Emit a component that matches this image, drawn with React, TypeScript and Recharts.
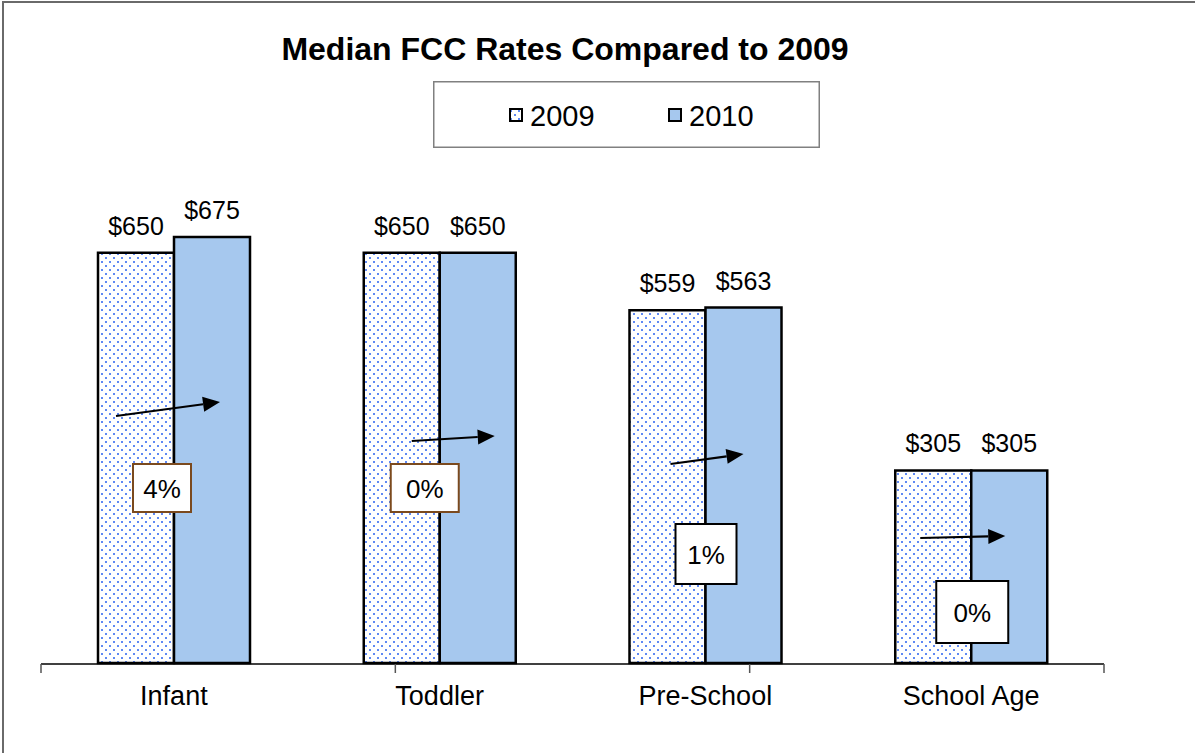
import { BarChart, Bar, XAxis, YAxis, Legend, LabelList } from "recharts";

const categories = ["Infant", "Toddler", "Pre-School", "School Age"];
const rates2009 = [650, 650, 559, 305];
const rates2010 = [675, 650, 563, 305];
const seriesNames = ["2009", "2010"];

const chartData = categories.map((name, i) => ({
  name,
  y2009: rates2009[i],
  y2010: rates2010[i],
}));

// arrows and % boxes were placed by hand in the original, offsets are from
// the category centre (x) and the baseline (y)
const notes = [
  { ax1: -58, ay1: -247, ax2: 46, ay2: -261, bx: -41, by: -199, bw: 58, bh: 48, border: "#7B4A1E" },
  { ax1: -28, ay1: -222, ax2: 55, ay2: -227, bx: -49, by: -199, bw: 68, bh: 48, border: "#7B4A1E" },
  { ax1: -35, ay1: -199, ax2: 38, ay2: -209, bx: -30, by: -139, bw: 61, bh: 60, border: "#000" },
  { ax1: -51, ay1: -125, ax2: 34, ay2: -127, bx: -35, by: -82, bw: 72, bh: 62, border: "#000" },
];

const FONT = "'Liberation Sans', Arial, sans-serif";
const BLUE = "#A6C8EE";

const pctChange = (i: number) =>
  Math.round(((rates2010[i] - rates2009[i]) / rates2009[i]) * 100) + "%";

const ValueLabel = (props: any) => {
  const { x, y, width } = props.viewBox ?? props;
  return (
    <text x={x + width / 2} y={y - 18} textAnchor="middle" fontSize={25} fontFamily={FONT} fill="#000">
      ${props.value}
    </text>
  );
};

const ChangeNote = (props: any) => {
  const { x, y, height } = props.viewBox ?? props;
  const n = notes[props.index];
  if (!n) return null;
  const base = y + height;
  const x1 = x + n.ax1, y1 = base + n.ay1, x2 = x + n.ax2, y2 = base + n.ay2;
  const ang = Math.atan2(y2 - y1, x2 - x1);
  const len = 17, half = 7.5;
  const bx = x2 - len * Math.cos(ang), by = y2 - len * Math.sin(ang);
  const head = [
    [x2, y2],
    [bx - half * Math.sin(ang), by + half * Math.cos(ang)],
    [bx + half * Math.sin(ang), by - half * Math.cos(ang)],
  ]
    .map((p) => p.join(","))
    .join(" ");
  return (
    <g>
      <line x1={x1} y1={y1} x2={bx} y2={by} stroke="#000" strokeWidth={2.2} />
      <polygon points={head} fill="#000" />
      <rect x={x + n.bx} y={base + n.by} width={n.bw} height={n.bh} fill="#fff" stroke={n.border} strokeWidth={2} />
      <text
        x={x + n.bx + n.bw / 2}
        y={base + n.by + n.bh / 2 + 10}
        textAnchor="middle"
        fontSize={26}
        fontFamily={FONT}
        fill="#000"
      >
        {pctChange(props.index)}
      </text>
    </g>
  );
};

const CategoryTick = (props: any) => (
  <text x={props.x} y={props.y + 42} textAnchor="middle" fontSize={27} fontFamily={FONT} fill="#000">
    {props.payload.value}
  </text>
);

const LegendBox = () => (
  <svg width={387} height={67} style={{ display: "block" }}>
    <rect x={0.75} y={0.75} width={385.5} height={65.5} fill="#fff" stroke="#808080" strokeWidth={1.5} />
    {seriesNames.map((s, i) => (
      <g key={s}>
        <rect
          x={77 + i * 159}
          y={28}
          width={12}
          height={12}
          fill={i === 0 ? "url(#dots)" : BLUE}
          stroke="#000"
          strokeWidth={2}
        />
        <text x={97 + i * 159} y={45} fontSize={29} fontFamily={FONT} fill="#000">
          {s}
        </text>
      </g>
    ))}
  </svg>
);

export default function App() {
  return (
    <div style={{ position: "relative", width: 1195, height: 753, overflow: "hidden", background: "#fff" }}>
      <style>{"body{margin:0}"}</style>
      <div
        style={{
          position: "absolute",
          left: 2,
          top: 1,
          width: 1300,
          height: 900,
          border: "2px solid #6a6a6a",
        }}
      />
      <svg width={0} height={0} style={{ position: "absolute" }}>
        <defs>
          <pattern id="dots" width={8} height={8} patternUnits="userSpaceOnUse">
            <rect width={8} height={8} fill="#fff" />
            <rect x={1} y={1} width={2} height={2} fill="#5f89f3" />
            <rect x={5} y={5} width={2} height={2} fill="#5f89f3" />
          </pattern>
        </defs>
      </svg>
      <BarChart
        width={1195}
        height={753}
        data={chartData}
        margin={{ top: 158, right: 91, bottom: 88, left: 41 }}
        barCategoryGap={57}
        barGap={0}
      >
        <XAxis
          xAxisId="edges"
          type="number"
          domain={[0, 4]}
          ticks={[0, 1, 2, 3, 4]}
          tick={() => <g />}
          tickSize={9}
          height={1}
          allowDataOverflow
          axisLine={{ stroke: "#000", strokeWidth: 1.5 }}
          tickLine={{ stroke: "#555", strokeWidth: 1.5 }}
        />
        <XAxis
          xAxisId="cat"
          dataKey="name"
          height={1}
          axisLine={false}
          tickLine={false}
          tickSize={0}
          tickMargin={0}
          interval={0}
          tick={<CategoryTick />}
        />
        <YAxis hide domain={[0, 800]} />
        <Legend
          layout="vertical"
          align="center"
          verticalAlign="middle"
          wrapperStyle={{ left: 433, top: 81, width: 387, height: 67 }}
          content={() => <LegendBox />}
        />
        <Bar
          xAxisId="cat"
          dataKey="y2009"
          name={seriesNames[0]}
          fill="url(#dots)"
          stroke="#000"
          strokeWidth={2.5}
          isAnimationActive={false}
        >
          <LabelList dataKey="y2009" content={<ValueLabel />} />
        </Bar>
        <Bar
          xAxisId="cat"
          dataKey="y2010"
          name={seriesNames[1]}
          fill={BLUE}
          stroke="#000"
          strokeWidth={2.5}
          isAnimationActive={false}
        >
          <LabelList dataKey="y2010" content={<ValueLabel />} />
          <LabelList dataKey="y2010" content={<ChangeNote />} />
        </Bar>
      </BarChart>
      <svg
        width={1195}
        height={753}
        style={{ position: "absolute", left: 0, top: 0, pointerEvents: "none" }}
      >
        <text x={565} y={60} textAnchor="middle" fontSize={32} fontWeight="bold" fontFamily={FONT} fill="#000">
          Median FCC Rates Compared to 2009
        </text>
      </svg>
    </div>
  );
}
